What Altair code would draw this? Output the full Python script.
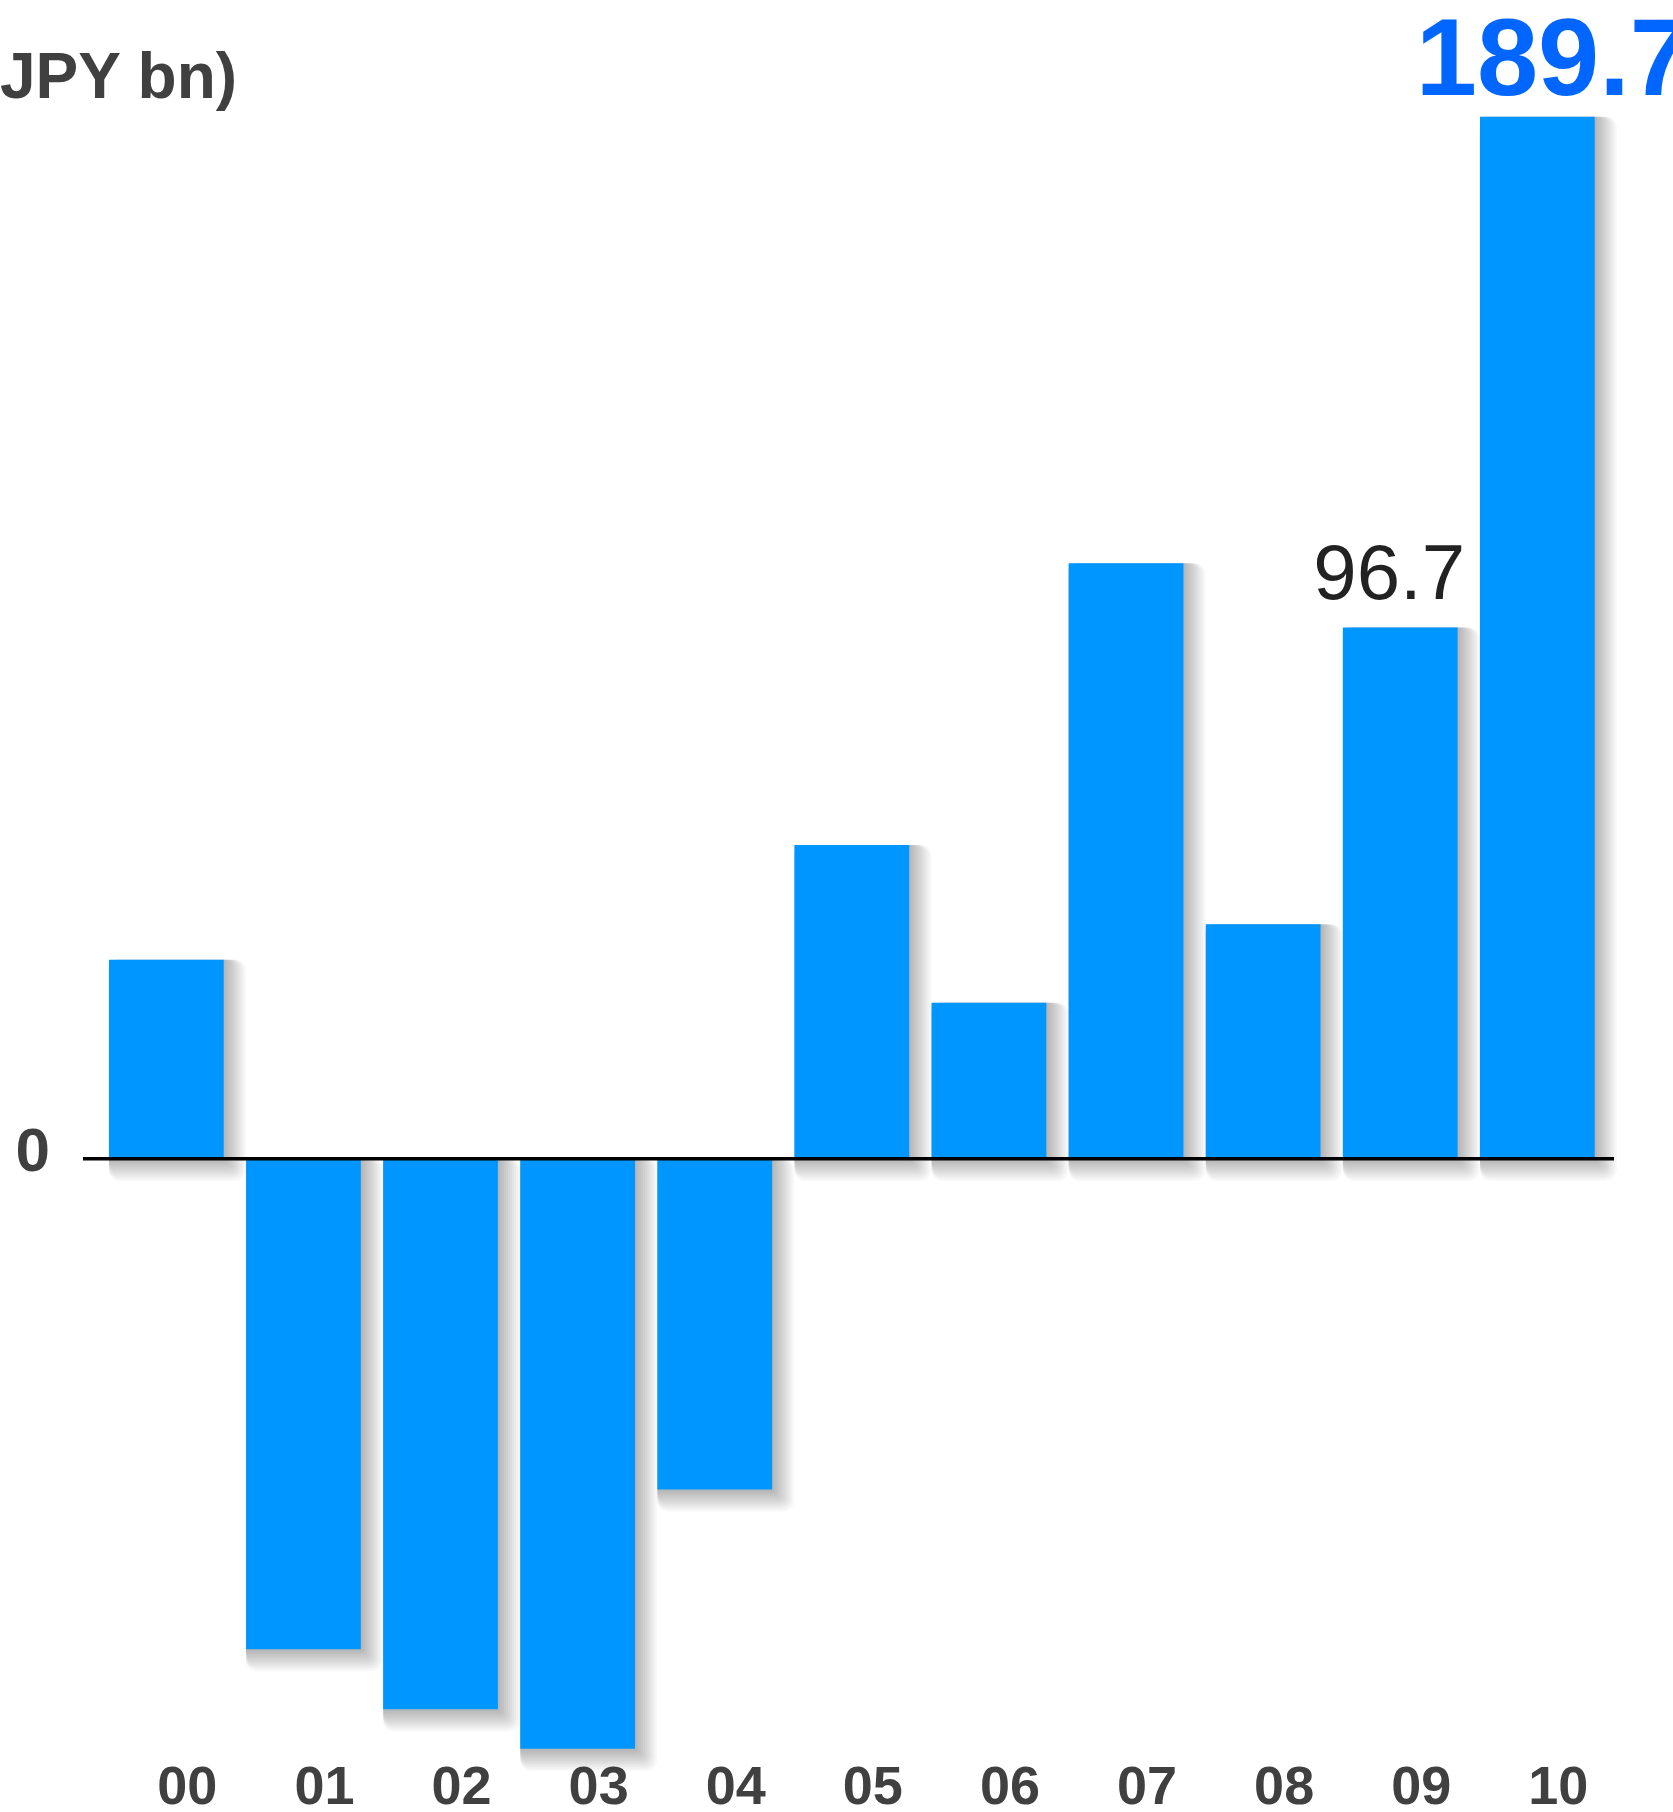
import altair as alt
import pandas as pd

# Fiscal years (two-digit) and annual result in JPY bn
years = ["00", "01", "02", "03", "04", "05", "06", "07", "08", "09", "10"]
values = [36.2, -89.3, -100.2, -107.4, -60.2, 57.1, 28.4, 108.4, 42.7, 96.7, 189.7]

df = pd.DataFrame({"year": years, "value": values})
zero_df = pd.DataFrame({"value": [0], "label": ["0"]})
unit_df = pd.DataFrame({"label": ["JPY bn)"]})

FONT = "Liberation Sans"
BAR = "#0096FF"
GREY = "#404040"

W, H = 1531, 1637

x = alt.X(
    "year:N",
    sort=years,
    scale=alt.Scale(paddingInner=0.163, paddingOuter=0.165, align=0.574),
    axis=alt.Axis(
        title=None, labelAngle=0, domain=False, ticks=False, grid=False,
        labelFont=FONT, labelFontSize=54, labelFontWeight="bold",
        labelColor=GREY, labelPadding=8, labelOffset=21,
    ),
)
y = alt.Y("value:Q", scale=alt.Scale(domain=[-108, 190], nice=False), axis=None)

base = alt.Chart(df)

# soft drop shadow towards the lower right: each translucent copy is pushed
# out by its own stroke half-width, so the darkness fades away from the bar
shadows = [
    base.mark_bar(
        color="black", opacity=0.024, stroke="black", strokeWidth=2 * h,
        strokeJoin="round", xOffset=h, yOffset=h,
    ).encode(x=x, y=y)
    for h in range(1, 12)
]

bars = base.mark_bar(color=BAR).encode(x=x, y=y)

zero_line = alt.Chart(zero_df).mark_rule(color="black", strokeWidth=3.5).encode(y=y)

zero_label = alt.Chart(zero_df).mark_text(
    font=FONT, fontSize=62, fontWeight="bold", color=GREY,
    align="right", baseline="alphabetic", dy=12, x=-33,
).encode(y=y, text="label:N")

unit_label = alt.Chart(unit_df).mark_text(
    font=FONT, fontSize=64, fontWeight="bold", color=GREY,
    align="left", baseline="alphabetic", x=-83, y=-17,
).encode(text="label:N")

label_09 = base.transform_filter(alt.datum.year == "09").mark_text(
    font=FONT, fontSize=78, color="#222222",
    align="center", baseline="alphabetic", dx=-11, dy=-29,
).encode(x=x, y=y, text=alt.Text("value:Q", format=".1f"))

label_10 = base.transform_filter(alt.datum.year == "10").mark_text(
    font=FONT, fontSize=110, fontWeight="bold", color="#0066FF",
    align="center", baseline="alphabetic", dx=16, dy=-22,
).encode(x=x, y=y, text=alt.Text("value:Q", format=".1f"))

chart = alt.layer(
    *shadows, bars, zero_line, zero_label, unit_label, label_09, label_10
).properties(
    width=W,
    height=H,
    autosize="none",
    padding={"left": 83, "top": 115, "right": 59, "bottom": 60},
    background="white",
).configure_view(stroke=None)

chart.save("out.html", embed_options={"renderer": "svg", "actions": False})
